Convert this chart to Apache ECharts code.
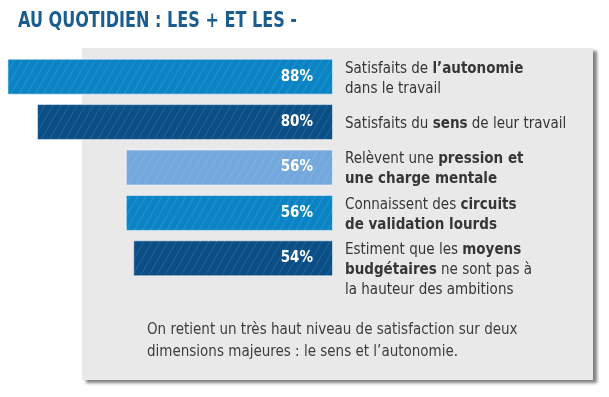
<!DOCTYPE html>
<html>
<head>
<meta charset="utf-8">
<script src="https://cdn.jsdelivr.net/npm/echarts@6/dist/echarts.min.js"></script>
<style>
  html, body { margin: 0; padding: 0; background: #fff; }
  #chart { width: 609px; height: 397px; }
</style>
</head>
<body>
<div id="chart"></div>
<script>
// data, top to bottom (bold part of each label between ** **)
const categories = [
  'Satisfaits de **l’autonomie**\ndans le travail',
  'Satisfaits du **sens** de leur travail',
  'Relèvent une **pression et**\n**une charge mentale**',
  'Connaissent des **circuits**\n**de validation lourds**',
  '\nEstiment que les **moyens**\n**budgétaires** ne sont pas à\nla hauteur des ambitions'
]
const values = [88, 80, 56, 56, 54]
const barColors = ['#0b84c6', '#0b4f86', '#72a8dc', '#0b84c6', '#0b4f86']
const title = 'AU QUOTIDIEN : LES + ET LES -'
const note = 'On retient un très haut niveau de satisfaction sur deux\ndimensions majeures : le sens et l’autonomie.'

const FONT = '"Liberation Sans Narrow", "DejaVu Sans Condensed", Roboto, sans-serif'

// turn **bold** markers into rich text tags
const toRich = (s) =>
  s.split('\n').map(line => {
    const parts = line.replace(/\*\*(.+?)\*\*/g, '{b|$1}').split(/(\{b\|[^}]*\})/).filter(p => p.length)
    return parts.map(p => p.startsWith('{b|') ? p : '{n|' + p + '}').join('') || '{n| }'
  }).join('\n')

const chart = echarts.init(document.getElementById('chart'))

const option = {
  animation: false,
  graphic: [
    {
      type: 'rect',
      z: 0,
      shape: { x: 82, y: 48, width: 511, height: 332 },
      style: {
        fill: '#e9e9e9',
        shadowBlur: 3,
        shadowOffsetX: 4,
        shadowOffsetY: 3,
        shadowColor: 'rgba(0,0,0,0.5)'
      }
    },
    {
      // condensed title
      type: 'text',
      z: 10,
      x: 18,
      y: 11,
      scaleX: 0.85,
      style: {
        text: title,
        font: 'bold 21px ' + FONT,
        fill: '#1b5d8f'
      }
    },
    {
      type: 'text',
      z: 10,
      left: 147,
      top: 319,
      style: {
        text: note,
        font: '15px ' + FONT,
        lineHeight: 22,
        fill: '#3d3d3d'
      }
    }
  ],
  grid: { left: 0, right: 276, top: 54, bottom: 116 },
  xAxis: {
    type: 'value',
    inverse: true,
    min: 0,
    max: 90,
    show: false
  },
  yAxis: {
    type: 'category',
    data: categories,
    inverse: true,
    position: 'right',
    axisLine: { show: false },
    axisTick: { show: false },
    splitLine: { show: false },
    axisLabel: {
      interval: 0,
      margin: 12,
      align: 'left',
      padding: [4, 0, 0, 0],
      formatter: (v) => toRich(v),
      rich: {
        n: { fontFamily: FONT, fontSize: 15, color: '#363636', lineHeight: 20 },
        b: { fontFamily: FONT, fontSize: 15, color: '#363636', fontWeight: 'bold', lineHeight: 20 }
      }
    }
  },
  series: [
    {
      type: 'bar',
      z: 2,
      barWidth: 36,
      data: values.map((v, i) => ({ value: v, itemStyle: { color: barColors[i] } })),
      itemStyle: {
        borderColor: 'rgba(255,255,255,0.3)',
        borderWidth: 1,
        decal: {
          symbol: 'rect',
          symbolSize: 1,
          color: 'rgba(255,255,255,0.1)',
          dashArrayX: [1, 0],
          dashArrayY: [1, 6],
          rotation: -Math.PI / 3
        }
      },
      label: {
        show: true,
        position: 'insideRight',
        distance: 20,
        formatter: '{c}%',
        fontFamily: FONT,
        fontSize: 15,
        fontWeight: 'bold',
        color: '#fff'
      }
    }
  ]
}

chart.setOption(option)
</script>
</body>
</html>
